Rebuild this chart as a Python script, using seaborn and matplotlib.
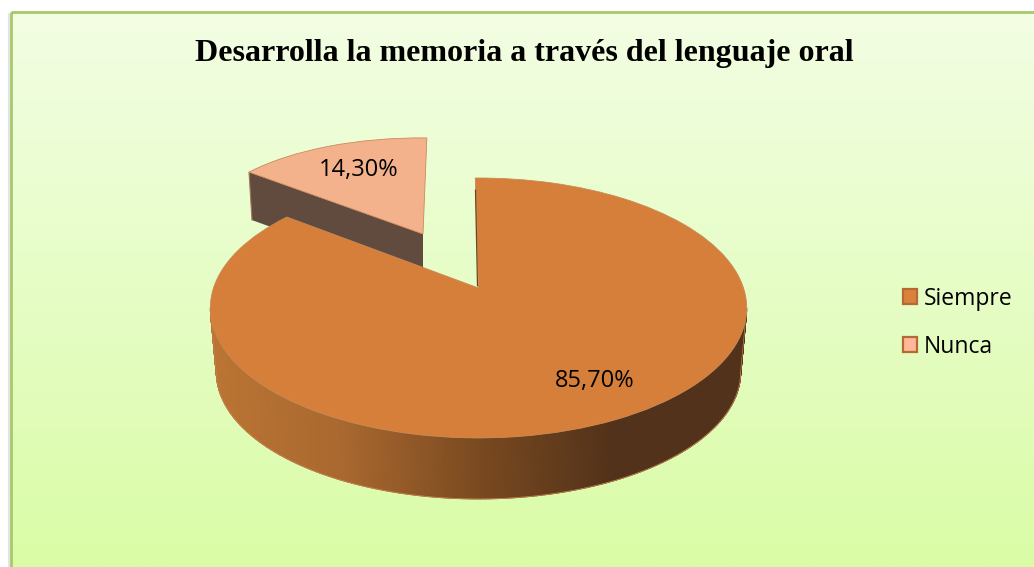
# -*- coding: utf-8 -*-
"""
Pie con apariencia 3D: "Desarrolla la memoria a traves del lenguaje oral"
"""
import numpy as np
import matplotlib
matplotlib.use('Agg')
import matplotlib.pyplot as plt
import seaborn as sns
from matplotlib.patches import Patch, Rectangle
from matplotlib.transforms import Transform, Affine2D

#========================= Data ================================================
categorias = ['Siempre', 'Nunca']
valores = [85.7, 14.3]
titulo = 'Desarrolla la memoria a través del lenguaje oral'

color_siempre = '#d67f3b'
color_nunca = '#f4b28c'
color_borde = '#c98a55'
color_lado_nunca = '#614a3e'
colores_lado = ['#bb7534', '#a9682f', '#7a4a20', '#52321a', '#52321a']

#========================= Perspective =========================================
class Perspectiva(Transform):
    # unit circle -> pixel coords, the far side of the disc gets squeezed
    input_dims = 2
    output_dims = 2
    is_separable = False
    has_inverse = False

    def __init__(self, cx, cy, ax_x, ax_y, k):
        super().__init__()
        self.cx, self.cy, self.ax_x, self.ax_y, self.k = cx, cy, ax_x, ax_y, k

    def transform_non_affine(self, values):
        values = np.asarray(values, dtype=float)
        x, y = values[:, 0], values[:, 1]
        w = 1 + self.k*y
        return np.column_stack([self.cx + self.ax_x*x/w, self.cy - self.ax_y*y/w])

K = 0.1537
GIRO = 0.8  # the 12 o'clock edge leans a little to the left
cara = Perspectiva(478.5, 288, 265, 126.9, K)
base = Perspectiva(478.5, 353, 259, 123.5, K)
# the exploded slice is drawn flatter: (a, b, c, d, e, f) of the affine map
cara_nunca = Affine2D.from_values(225.4, 4, 7, -96, 423, 234)

#========================= Figure ==============================================
sns.set_theme(style='white')
plt.rcParams['font.family'] = ['Open Sans', 'DejaVu Sans']

fig = plt.figure(figsize=(10.34, 5.67), dpi=100)
fig.patch.set_facecolor('white')
ax = fig.add_axes([0, 0, 1, 1])

# pie first, it resets limits and aspect
wedges, _ = ax.pie(valores, colors=[color_siempre, color_nunca], startangle=90 + GIRO,
                   counterclock=False,
                   wedgeprops={'edgecolor': color_borde, 'linewidth': 0.6})
ax.set_aspect('auto')
ax.set_frame_on(False)

# background panel
fondo = sns.blend_palette(['#f3fee3', '#e6fdc6', '#dafca6'], as_cmap=True)
grad = np.linspace(0, 1, 256).reshape(-1, 1)
ax.imshow(grad, cmap=fondo, extent=(11, 1034, 567, 12), aspect='auto', zorder=0)
ax.add_patch(Rectangle((10.5, 11.5), 1100, 700, fill=False, edgecolor='#a6c96c', linewidth=2, zorder=1))
ax.plot([9, 9], [14, 567], color='#e4e4e4', lw=1.5, zorder=0.5)
ax.set_xlim(0, 1034)
ax.set_ylim(567, 0)

# exploded slice: side wall then top
wedges[1].set_transform(cara_nunca + ax.transData)
wedges[1].set_zorder(4)
wedges[1].set_edgecolor('#c98a5c')
ang = np.radians(valores[1]*3.6 + GIRO)
esq_izq = cara_nunca.transform([[-np.sin(ang), np.cos(ang)]])[0]
apice = cara_nunca.transform([[0, 0]])[0]
prof = 48
ax.fill([esq_izq[0], apice[0], apice[0], esq_izq[0]+3],
        [esq_izq[1], apice[1], apice[1]+prof, esq_izq[1]+prof],
        color=color_lado_nunca, lw=0, zorder=3)
ax.plot([esq_izq[0], esq_izq[0]+3], [esq_izq[1], esq_izq[1]+prof], color='#a57a5c', lw=0.8, zorder=3)

# big slice: curved wall with gradient, then top
t = np.linspace(np.pi + np.arcsin(K), 2*np.pi - np.arcsin(K), 200)
circulo = np.column_stack([np.cos(t), np.sin(t)])
arriba = cara.transform(circulo)
abajo = base.transform(circulo)
X = np.vstack([arriba[:, 0], abajo[:, 0]])
Y = np.vstack([arriba[:, 1], abajo[:, 1]])
lado = sns.blend_palette(colores_lado, as_cmap=True)
ax.pcolormesh(X, Y, X, cmap=lado, shading='gouraud', zorder=5)
ax.plot(abajo[:, 0], abajo[:, 1], color='#c4824e', lw=0.6, zorder=5)
ax.plot(X[:, 0], Y[:, 0], color='#c4824e', lw=0.5, zorder=5)
ax.plot(X[:, -1], Y[:, -1], color='#c4824e', lw=0.5, zorder=5)

wedges[0].set_transform(cara + ax.transData)
wedges[0].set_zorder(6)
ax.plot([475.5, 477.5], [190, 286], color='#6e4520', lw=0.9, zorder=6)

#========================= Text ================================================
ax.text(524.5, 53, titulo, family=['Liberation Serif'], fontweight='bold', fontsize=23,
        ha='center', va='center', color='black', zorder=8)
etiquetas = [('%.2f%%' % v).replace('.', ',') for v in valores]
ax.text(594.5, 381, etiquetas[0], fontsize=17, ha='center', va='center', color='black', zorder=8)
ax.text(358.5, 170, etiquetas[1], fontsize=17, ha='center', va='center', color='black', zorder=8)

handles = [Patch(facecolor='#d9823c', edgecolor='#b56a35', linewidth=1.6),
           Patch(facecolor='#ffb899', edgecolor='#b56a35', linewidth=1.6)]
leg = ax.legend(handles, categorias, loc='upper left', bbox_to_anchor=(882, 266),
                bbox_transform=ax.transData, frameon=False, fontsize=16.5, labelcolor='black',
                handlelength=0.62, handleheight=0.62, handletextpad=0.3, labelspacing=1.05)
leg.set_zorder(8)

plt.savefig('out.png', dpi=100)
